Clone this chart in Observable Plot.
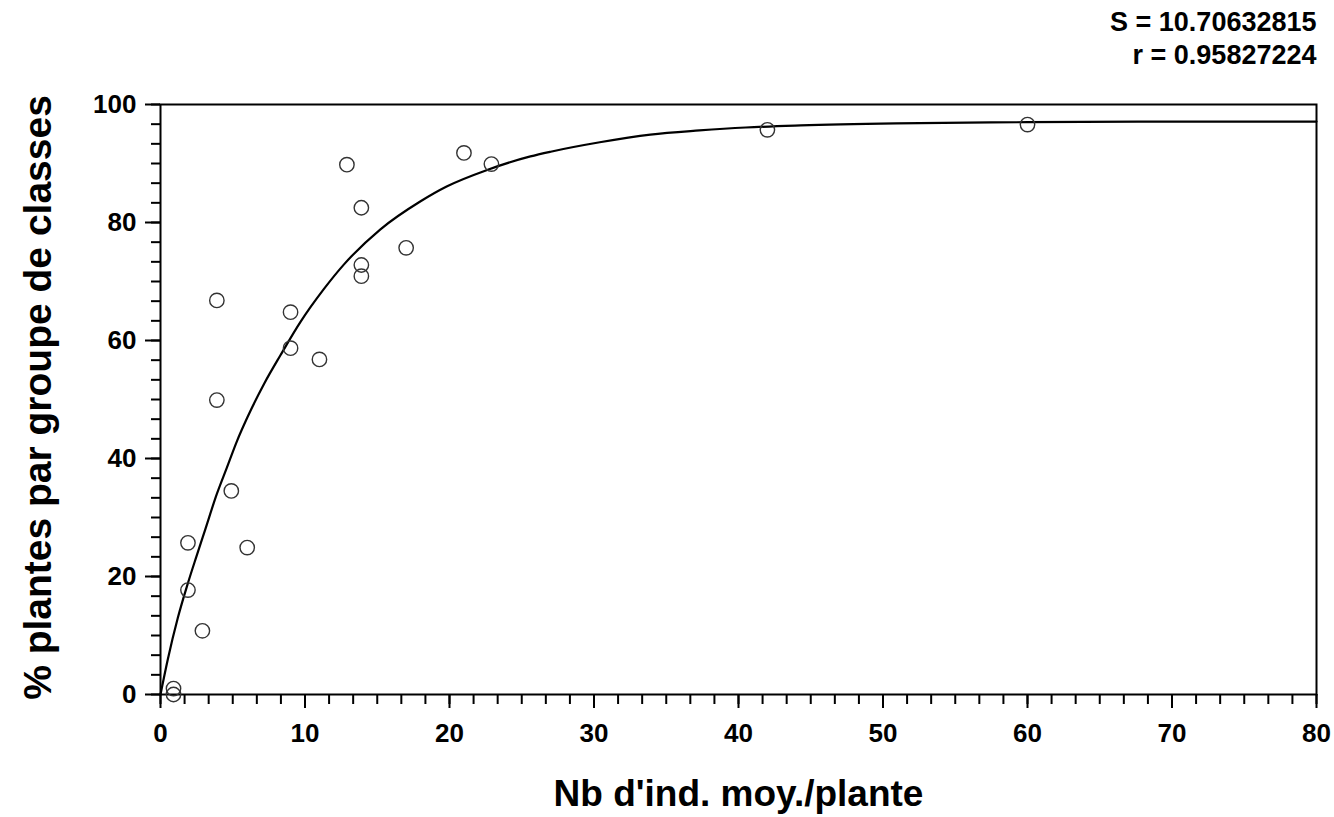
<!DOCTYPE html>
<html><head><meta charset="utf-8">
<script src="https://cdn.jsdelivr.net/npm/d3@7"></script>
<script src="https://cdn.jsdelivr.net/npm/@observablehq/plot@0.6"></script>
<style>body{margin:0;background:#fff}</style>
</head><body><div id="chart"></div>
<script>
// Observed points
const obsX = [0.9, 0.9, 1.9, 1.9, 2.9, 3.9, 3.9, 4.9, 6, 9, 9, 11, 12.9, 13.9, 13.9, 13.9, 17, 21, 22.9, 42, 60];
const obsY = [1, 0, 25.7, 17.7, 10.8, 66.8, 49.9, 34.5, 24.9, 64.8, 58.7, 56.8, 89.8, 82.5, 72.8, 70.9, 75.7, 91.8, 89.9, 95.7, 96.6];
// Fitted curve
const curveX = [0, 0.5, 1.2, 1.9, 2.5, 3.1, 3.9, 4.6, 5.3, 6, 7.2, 8.3, 9.7, 11.3, 12.7, 15.2, 18, 19.8, 22.6, 25.6, 27, 30.4, 33.9, 37.3, 40.5, 44.3, 50.9, 60, 70, 80];
const curveY = [0, 5.9, 13.0, 18.9, 23.5, 28.0, 34, 38.5, 43, 46.9, 52.8, 57.5, 63.2, 68.7, 72.9, 78.8, 83.6, 86.1, 88.9, 91.2, 92, 93.6, 94.9, 95.6, 96.1, 96.45, 96.8, 97.0, 97.1, 97.1];
// Ticks
const xMajor = [0, 10, 20, 30, 40, 50, 60, 70, 80];
const yMajor = [0, 20, 40, 60, 80, 100];
const xMinor = d3.range(0, 80.001, 10 / 6);
const yMinor = d3.range(0, 100.001, 10 / 3);
// Texts
const statLines = ["S = 10.70632815", "r = 0.95827224"];
const xTitle = "Nb d'ind. moy./plante";
const yTitle = "% plantes par groupe de classes";

const points = obsX.map((x, i) => ({x, y: obsY[i]}));
const curve = curveX.map((x, i) => ({x, y: curveY[i]}));

const chart = Plot.plot({
  width: 1334, height: 817,
  marginLeft: 160, marginRight: 18, marginTop: 104, marginBottom: 123,
  style: {fontFamily: "'Liberation Sans', Arial, sans-serif", fontWeight: "bold", fontSize: "26px", color: "#000", background: "#fff"},
  x: {domain: [0, 80], axis: null},
  y: {domain: [0, 100], axis: null},
  marks: [
    Plot.axisX({ticks: xMinor, tickSize: 10, strokeWidth: 2, text: null, label: null}),
    Plot.axisX({ticks: xMajor, tickSize: 14, strokeWidth: 2, tickPadding: 15, tickFormat: d => d, label: null, fill: "#000"}),
    Plot.axisY({ticks: yMinor, tickSize: 9, strokeWidth: 2, text: null, label: null}),
    Plot.axisY({ticks: yMajor, tickSize: 15, strokeWidth: 2, tickPadding: 9, tickFormat: d => d, label: null, fill: "#000"}),
    Plot.frame({stroke: "#000", strokeWidth: 2}),
    Plot.line(curve, {x: "x", y: "y", stroke: "#000", strokeWidth: 2.2, curve: "monotone-x"}),
    Plot.dot(points, {x: "x", y: "y", r: 7.2, stroke: "#333", strokeWidth: 1.4, fill: "none"}),
    Plot.text([statLines[0]], {frameAnchor: "top-right", dy: -82, textAnchor: "end", lineAnchor: "middle", fontSize: 27, fontWeight: "bold", fill: "#000"}),
    Plot.text([statLines[1]], {frameAnchor: "top-right", dy: -49, textAnchor: "end", lineAnchor: "middle", fontSize: 27, fontWeight: "bold", fill: "#000"}),
    Plot.text([xTitle], {frameAnchor: "bottom", dy: 100, textAnchor: "middle", lineAnchor: "middle", fontSize: 37, fontWeight: "bold", fill: "#000"}),
    Plot.text([yTitle], {frameAnchor: "left", dx: -122, dy: -2, rotate: -90, textAnchor: "middle", lineAnchor: "middle", fontSize: 39, fontWeight: "bold", fill: "#000"})
  ]
});
document.getElementById("chart").appendChild(chart);
</script>
</body></html>
